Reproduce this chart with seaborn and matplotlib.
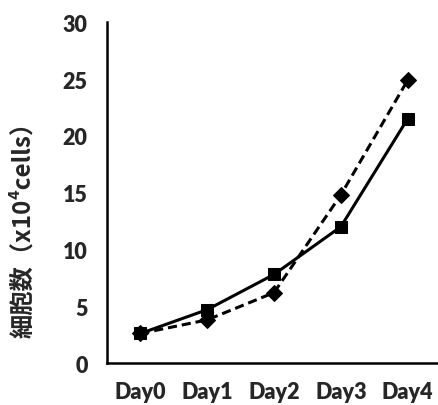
import numpy as np
import pandas as pd
import matplotlib
matplotlib.use("Agg")
import matplotlib.pyplot as plt
import seaborn as sns

days = ["Day0", "Day1", "Day2", "Day3", "Day4"]
solid_vals = [2.6, 4.7, 7.8, 12.0, 21.5]
dashed_vals = [2.6, 3.8, 6.2, 14.8, 24.9]

sns.set_style("white")
plt.rcParams["font.family"] = ["Lato", "Noto Sans CJK JP", "DejaVu Sans"]

df = pd.DataFrame({
    "day": list(range(len(days))) * 2,
    "value": solid_vals + dashed_vals,
    "series": ["A"] * len(days) + ["B"] * len(days),
})

fig = plt.figure(figsize=(4.38, 4.06), dpi=100)
ax = fig.add_axes([0.2443, 0.1034, 0.7627, 0.8392])

sns.lineplot(data=df, x="day", y="value", style="series",
             markers={"A": "s", "B": "D"},
             dashes={"A": "", "B": (3, 1.6)},
             color="black", linewidth=2.2, markersize=8.5,
             markeredgecolor="black", legend=False, ax=ax)

ax.set_xlim(-0.5, 4.5)
ax.set_ylim(0, 30)
ax.set_yticks(np.arange(0, 31, 5))
ax.set_xticks(range(len(days)))
ax.set_xticklabels(days)
ax.set_xticks(np.arange(-0.5, 5, 1), minor=True)
ax.tick_params(axis="x", which="major", length=0, pad=13)
ax.tick_params(axis="x", which="minor", length=6, width=1.5, direction="out")
ax.tick_params(axis="y", length=6, width=1.5, direction="out", pad=8)
for lab in ax.get_xticklabels() + ax.get_yticklabels():
    lab.set_fontsize(15.5)
    lab.set_fontweight("heavy")

ax.set_xlabel("")
ax.set_ylabel("細胞数（x10⁴cells）", fontsize=17.5, fontweight="bold",
              family=["Noto Sans CJK JP", "DejaVu Sans"])
ax.yaxis.set_label_coords(-0.215, 0.41)

sns.despine(ax=ax)
for s in ["left", "bottom"]:
    ax.spines[s].set_linewidth(1.8)
    ax.spines[s].set_color("black")

fig.savefig("out.png", dpi=100)
